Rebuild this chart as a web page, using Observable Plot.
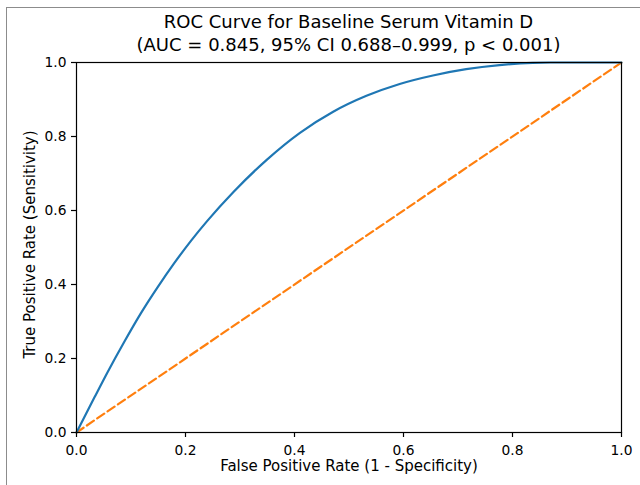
<!DOCTYPE html>
<html>
<head>
<meta charset="utf-8">
<script src="https://cdn.jsdelivr.net/npm/d3@7"></script>
<script src="https://cdn.jsdelivr.net/npm/@observablehq/plot@0.6"></script>
<style>
  html, body { margin: 0; padding: 0; background: #fff; }
  #wrap { position: relative; width: 640px; height: 485px; overflow: hidden; font-family: "DejaVu Sans", sans-serif; background: #fff; }
  #title { position: absolute; left: 76px; width: 545px; top: 10px; text-align: center; font-size: 18px; line-height: 23px; color: #000; white-space: nowrap; }
  #border { position: absolute; left: 6px; top: 7px; width: 800px; height: 800px; border-left: 1.5px solid #8c8c8c; border-top: 1.5px solid #8c8c8c; pointer-events: none; z-index: 5; }
  #chart { position: absolute; left: 0; top: 55px; }
</style>
</head>
<body>
<div id="wrap">
  <div id="title">ROC Curve for Baseline Serum Vitamin D<br>(AUC = 0.845, 95% CI 0.688–0.999, p &lt; 0.001)</div>
  <div id="chart"></div>
  <div id="border"></div>
</div>
<script>
// ROC curve
const fpr = [0, 0.033, 0.057, 0.088, 0.118, 0.149, 0.179, 0.210, 0.240, 0.288, 0.349, 0.410, 0.471, 0.532, 0.593, 0.654, 0.715, 0.776, 0.837, 0.870, 1.0];
const tpr = [0, 0.095, 0.163, 0.246, 0.322, 0.393, 0.457, 0.518, 0.572, 0.650, 0.737, 0.810, 0.867, 0.910, 0.942, 0.965, 0.982, 0.993, 0.999, 1.0, 1.0];
// chance line
const chanceX = [0, 1];
const chanceY = [0, 1];
const ticks = [0, 0.2, 0.4, 0.6, 0.8, 1.0];
const xLabel = "False Positive Rate (1 - Specificity)";
const yLabel = "True Positive Rate (Sensitivity)";

const roc = fpr.map((x, i) => ({x, y: tpr[i]}));
const chance = chanceX.map((x, i) => ({x, y: chanceY[i]}));

const chart = Plot.plot({
  width: 640,
  height: 430,
  marginLeft: 76,
  marginRight: 19,
  marginTop: 7,
  marginBottom: 53,
  style: {fontFamily: "DejaVu Sans, sans-serif", fontSize: "13.8px", color: "#000", background: "transparent", overflow: "visible"},
  x: {domain: [0, 1]},
  y: {domain: [0, 1]},
  marks: [
    Plot.line(chance, {x: "x", y: "y", stroke: "#ff7f0e", strokeWidth: 2.2, strokeDasharray: "8.5,4"}),
    Plot.line(roc, {x: "x", y: "y", stroke: "#1f77b4", strokeWidth: 2.2, curve: "monotone-x"}),
    Plot.frame({stroke: "#000", strokeWidth: 1.2}),
    Plot.axisX({ticks, tickFormat: d3.format(".1f"), tickSize: 5, tickPadding: 8, label: null, strokeWidth: 1.2}),
    Plot.axisY({ticks, tickFormat: d3.format(".1f"), tickSize: 5, tickPadding: 5, label: null, strokeWidth: 1.2}),
    Plot.text([xLabel], {frameAnchor: "bottom", dy: 34, lineAnchor: "middle", textAnchor: "middle", text: d => d, fontSize: 15, fill: "#000"}),
    Plot.text([yLabel], {frameAnchor: "left", dx: -46, dy: -3, rotate: -90, lineAnchor: "middle", textAnchor: "middle", text: d => d, fontSize: 15, fill: "#000"})
  ]
});
document.getElementById("chart").appendChild(chart);
</script>
</body>
</html>
